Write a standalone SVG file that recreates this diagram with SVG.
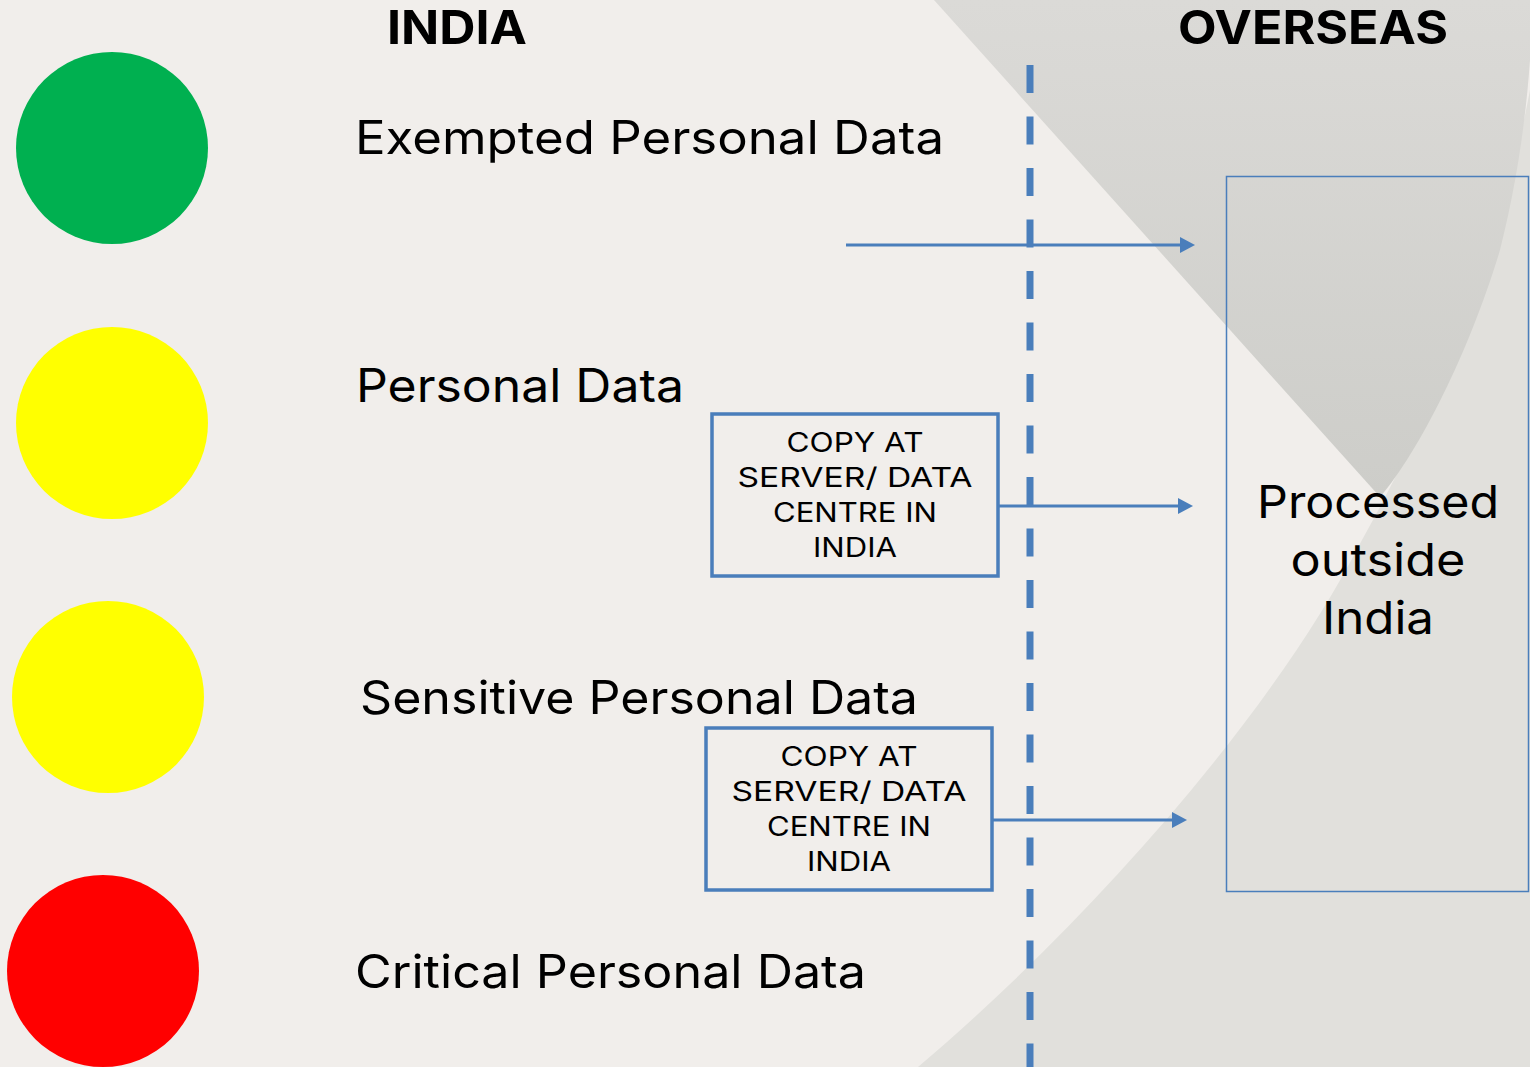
<svg xmlns="http://www.w3.org/2000/svg" width="1530" height="1067" viewBox="0 0 1530 1067">
  <style>
    .hdr { font-family: Inter, "DejaVu Sans", sans-serif; font-weight: 700; font-size: 46px; fill: #000; }
    .lbl { font-family: Inter, "Liberation Sans", sans-serif; font-weight: 400; font-size: 46px; fill: #000; }
    .box { fill: none; stroke: #4a7ebb; stroke-width: 3.5; }
    .btxt { font-family: Inter, "Liberation Sans", sans-serif; font-size: 27px; fill: #000; text-anchor: middle; }
    .ptxt { font-family: Inter, "Liberation Sans", sans-serif; font-size: 45px; fill: #000; text-anchor: middle; }
    .conn { stroke: #4a7ebb; stroke-width: 3; fill: none; }
  </style>
  <defs>
    <linearGradient id="gTop" x1="0" y1="0" x2="0" y2="1">
      <stop offset="0" stop-color="#dbdad7"/>
      <stop offset="1" stop-color="#cdcdc9"/>
    </linearGradient>
    <marker id="arr" viewBox="0 0 15 16" refX="5" refY="8" markerWidth="15" markerHeight="16" markerUnits="userSpaceOnUse" orient="auto">
      <path d="M0,0 L15,8 L0,16 Z" fill="#4a7ebb"/>
    </marker>
  </defs>

  <g id="background">
    <rect x="0" y="0" width="1530" height="1067" fill="#f1eeeb"/>
    <path d="M918,1067 C1080,930 1270,720 1362,540 C1440,400 1500,250 1530,90 L1530,1067 Z" fill="#e1e0dc"/>
    <path d="M934,0 L1380,497 C1420,450 1470,350 1500,250 C1515,190 1525,130 1530,60 L1530,0 Z" fill="url(#gTop)"/>
  </g>

  <g id="header-india"><text class="hdr" x="387" y="44" textLength="140" lengthAdjust="spacingAndGlyphs">INDIA</text></g>
  <g id="header-overseas"><text class="hdr" x="1178" y="44" textLength="270" lengthAdjust="spacingAndGlyphs">OVERSEAS</text></g>

  <g id="node-exempted">
    <circle cx="112" cy="148" r="96" fill="#00b050"/>
    <text class="lbl" x="355" y="154" textLength="589" lengthAdjust="spacingAndGlyphs">Exempted Personal Data</text>
  </g>
  <g id="node-personal">
    <circle cx="112" cy="423" r="96" fill="#ffff00"/>
    <text class="lbl" x="356" y="402" textLength="328" lengthAdjust="spacingAndGlyphs">Personal Data</text>
  </g>
  <g id="node-sensitive">
    <circle cx="108" cy="697" r="96" fill="#ffff00"/>
    <text class="lbl" x="360" y="714" textLength="558" lengthAdjust="spacingAndGlyphs">Sensitive Personal Data</text>
  </g>
  <g id="node-critical">
    <circle cx="103" cy="971" r="96" fill="#ff0000"/>
    <text class="lbl" x="355" y="988" textLength="511" lengthAdjust="spacingAndGlyphs">Critical Personal Data</text>
  </g>

  <g id="node-copy1">
    <rect class="box" x="712" y="414" width="286" height="162"/>
    <text class="btxt" x="855" y="452" textLength="137" lengthAdjust="spacingAndGlyphs">COPY AT</text>
    <text class="btxt" x="855" y="487" textLength="235" lengthAdjust="spacingAndGlyphs">SERVER/ DATA</text>
    <text class="btxt" x="855" y="522" textLength="164" lengthAdjust="spacingAndGlyphs">CENTRE IN</text>
    <text class="btxt" x="855" y="557" textLength="84" lengthAdjust="spacingAndGlyphs">INDIA</text>
  </g>
  <g id="node-copy2">
    <rect class="box" x="706" y="728" width="286" height="162"/>
    <text class="btxt" x="849" y="766" textLength="137" lengthAdjust="spacingAndGlyphs">COPY AT</text>
    <text class="btxt" x="849" y="801" textLength="235" lengthAdjust="spacingAndGlyphs">SERVER/ DATA</text>
    <text class="btxt" x="849" y="836" textLength="164" lengthAdjust="spacingAndGlyphs">CENTRE IN</text>
    <text class="btxt" x="849" y="871" textLength="84" lengthAdjust="spacingAndGlyphs">INDIA</text>
  </g>

  <g id="node-processed">
    <rect x="1226.5" y="176.5" width="302" height="715" fill="none" stroke="#4a7ebb" stroke-width="1.5"/>
    <text class="ptxt" x="1378" y="518" textLength="242" lengthAdjust="spacingAndGlyphs">Processed</text>
    <text class="ptxt" x="1378" y="576" textLength="175" lengthAdjust="spacingAndGlyphs">outside</text>
    <text class="ptxt" x="1378" y="634" textLength="112" lengthAdjust="spacingAndGlyphs">India</text>
  </g>

  <g id="connectors">
    <line x1="1030" y1="65" x2="1030" y2="1067" stroke="#4a7ebb" stroke-width="7" stroke-dasharray="28 23.5"/>
    <line class="conn" x1="846" y1="245" x2="1185" y2="245" marker-end="url(#arr)"/>
    <line class="conn" x1="998" y1="506" x2="1183" y2="506" marker-end="url(#arr)"/>
    <line class="conn" x1="992" y1="820" x2="1177" y2="820" marker-end="url(#arr)"/>
  </g>
</svg>
